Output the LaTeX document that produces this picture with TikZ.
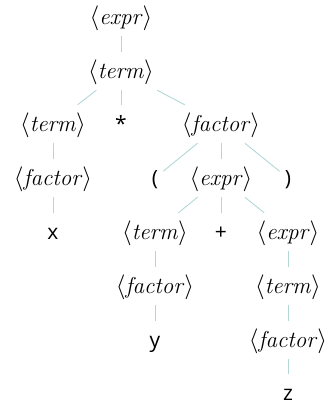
\documentclass[tikz,border=0pt]{standalone}
\usepackage{fontspec}
\newfontfamily\termfont{Open Sans}
\usetikzlibrary{positioning}
\definecolor{edgeteal}{RGB}{178,216,214}

\newcommand{\nterm}[1]{$\langle$\textit{#1}$\rangle$}

\begin{document}
\begin{tikzpicture}[
    x=1pt, y=-1pt,
    sym/.style={rectangle, inner xsep=5pt, inner ysep=9pt, text height=17pt, text depth=3pt},
    nt/.style={sym, font=\fontsize{23}{26}\selectfont},
    tm/.style={sym, font=\fontsize{21}{24}\selectfont\termfont},
    edge/.style={draw=edgeteal, line width=0.9pt}
]
    \useasboundingbox (0,0) rectangle (327,402);

    % root and first levels
    \node[nt] (e1) at (121,17) {\nterm{expr}};
    \node[nt] (t1) at (121,71) {\nterm{term}};
    \node[nt] (t2) at (53,124) {\nterm{term}};
    \node[tm] (mul) at (121,124) {*};
    \node[nt] (f1) at (221,124) {\nterm{factor}};

    % left branch
    \node[nt] (f2) at (53,178) {\nterm{factor}};
    \node[tm] (x) at (53,232) {x};

    % parenthesised part
    \node[tm] (lp) at (155,178) {(};
    \node[nt] (e2) at (221,178) {\nterm{expr}};
    \node[tm] (rp) at (288,178) {)};
    \node[nt] (t3) at (155,232) {\nterm{term}};
    \node[tm] (plus) at (221,232) {+};
    \node[nt] (e3) at (288,232) {\nterm{expr}};
    \node[nt] (f3) at (155,286) {\nterm{factor}};
    \node[tm] (y) at (155,340) {y};
    \node[nt] (t4) at (288,286) {\nterm{term}};
    \node[nt] (f4) at (288,340) {\nterm{factor}};
    \node[tm] (z) at (288,393) {z};

    % edges
    \draw[edge] (e1) -- (t1);
    \draw[edge] (t1) -- (t2);
    \draw[edge] (t1) -- (mul);
    \draw[edge] (t1) -- (f1);
    \draw[edge] (t2) -- (f2);
    \draw[edge] (f2) -- (x);
    \draw[edge] (f1) -- (lp);
    \draw[edge] (f1) -- (e2);
    \draw[edge] (f1) -- (rp);
    \draw[edge] (e2) -- (t3);
    \draw[edge] (e2) -- (plus);
    \draw[edge] (e2) -- (e3);
    \draw[edge] (t3) -- (f3);
    \draw[edge] (f3) -- (y);
    \draw[edge] (e3) -- (t4);
    \draw[edge] (t4) -- (f4);
    \draw[edge] (f4) -- (z);
\end{tikzpicture}
\end{document}
